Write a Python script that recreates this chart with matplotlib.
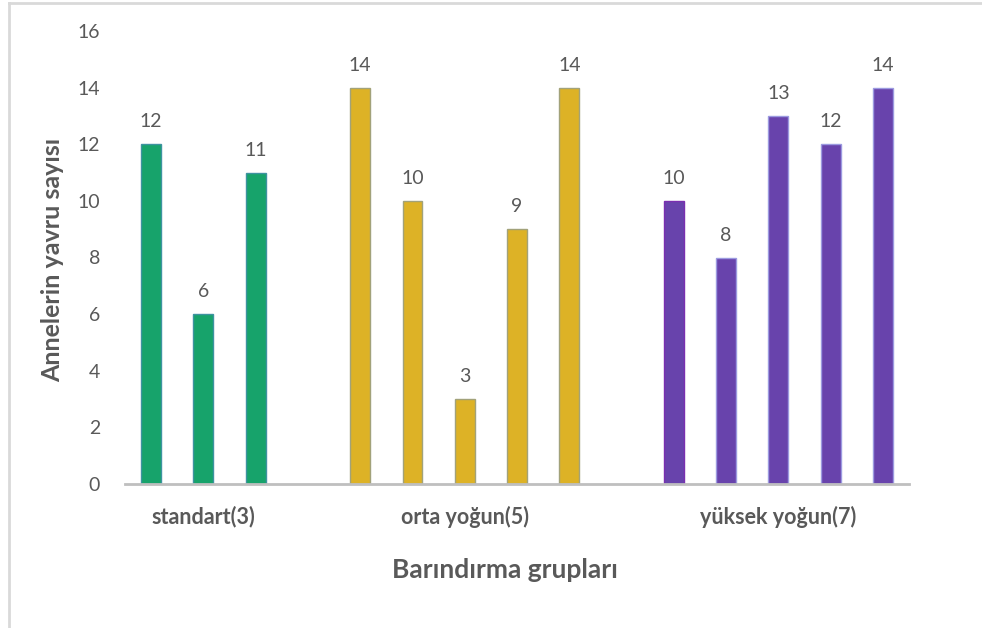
import matplotlib
matplotlib.use("Agg")
import matplotlib.pyplot as plt
from matplotlib.lines import Line2D
import matplotlib.transforms as mtransforms

plt.rcParams['font.family'] = ['Lato', 'DejaVu Sans']

# Data
groups = ["standart(3)", "orta yoğun(5)", "yüksek yoğun(7)"]
standart_vals = [12, 6, 11]
orta_vals = [14, 10, 3, 9, 14]
yuksek_vals = [10, 8, 13, 12, 14]
y_ticks = [0, 2, 4, 6, 8, 10, 12, 14, 16]
y_label = "Annelerin yavru sayısı"
x_label = "Barındırma grupları"

series = [standart_vals, orta_vals, yuksek_vals]
face_colors = ["#17A36B", "#DDB226", "#6843AC"]
edge_colors = ["#3E93A0", "#A2A27A", "#9C9AE0"]

fig = plt.figure(figsize=(9.82, 6.28), dpi=100)
ax = fig.add_axes([125/982, 1-484/628, (909-125)/982, (484-31)/628])

text_gray = "#595959"
pos = 0
label_pos = []
for gi, vals in enumerate(series):
    xs = list(range(pos, pos + len(vals)))
    ecs = [edge_colors[gi]] * len(vals)
    if gi == 2:
        ecs[0] = "#7A2FB0"
    ax.bar(xs, vals, width=0.38, color=face_colors[gi], edgecolor=ecs, linewidth=1.0, zorder=2)
    for x, v in zip(xs, vals):
        ax.annotate(str(v), (x, v), xytext=(0, 10), textcoords="offset points",
                    ha="center", va="bottom", fontsize=14, color=text_gray)
    label_pos.append(xs[len(xs) // 2])
    pos += len(vals) + 1

ax.set_xlim(-0.5, 14.5)
ax.set_ylim(0, 16)
ax.set_yticks(y_ticks)
ax.set_yticklabels([str(t) for t in y_ticks], fontsize=14, color=text_gray)
ax.tick_params(axis="y", length=0, pad=18)
ax.set_xticks([])

for s in ["top", "right", "left"]:
    ax.spines[s].set_visible(False)
ax.spines["bottom"].set_color("#BFBFBF")
ax.spines["bottom"].set_linewidth(2)

trans = mtransforms.blended_transform_factory(ax.transData, ax.transAxes)
for x, g in zip(label_pos, groups):
    ax.text(x, -0.072, g, transform=trans, ha="center", va="center",
            fontsize=15.5, fontweight="bold", color=text_gray)

fig.text(505/982, 1-570/628, x_label, ha="center", va="center",
         fontsize=19, fontweight="bold", color=text_gray)
fig.text(53/982, 1-260/628, y_label, ha="center", va="center", rotation=90,
         fontsize=18, fontweight="bold", color=text_gray)

# figure border lines (left and top)
fig.add_artist(Line2D([9/982, 9/982], [0, 1-3/628], transform=fig.transFigure, color="#D9D9D9", lw=2))
fig.add_artist(Line2D([9/982, 1], [1-3/628, 1-3/628], transform=fig.transFigure, color="#D9D9D9", lw=2))

fig.savefig("out.png", dpi=100)
